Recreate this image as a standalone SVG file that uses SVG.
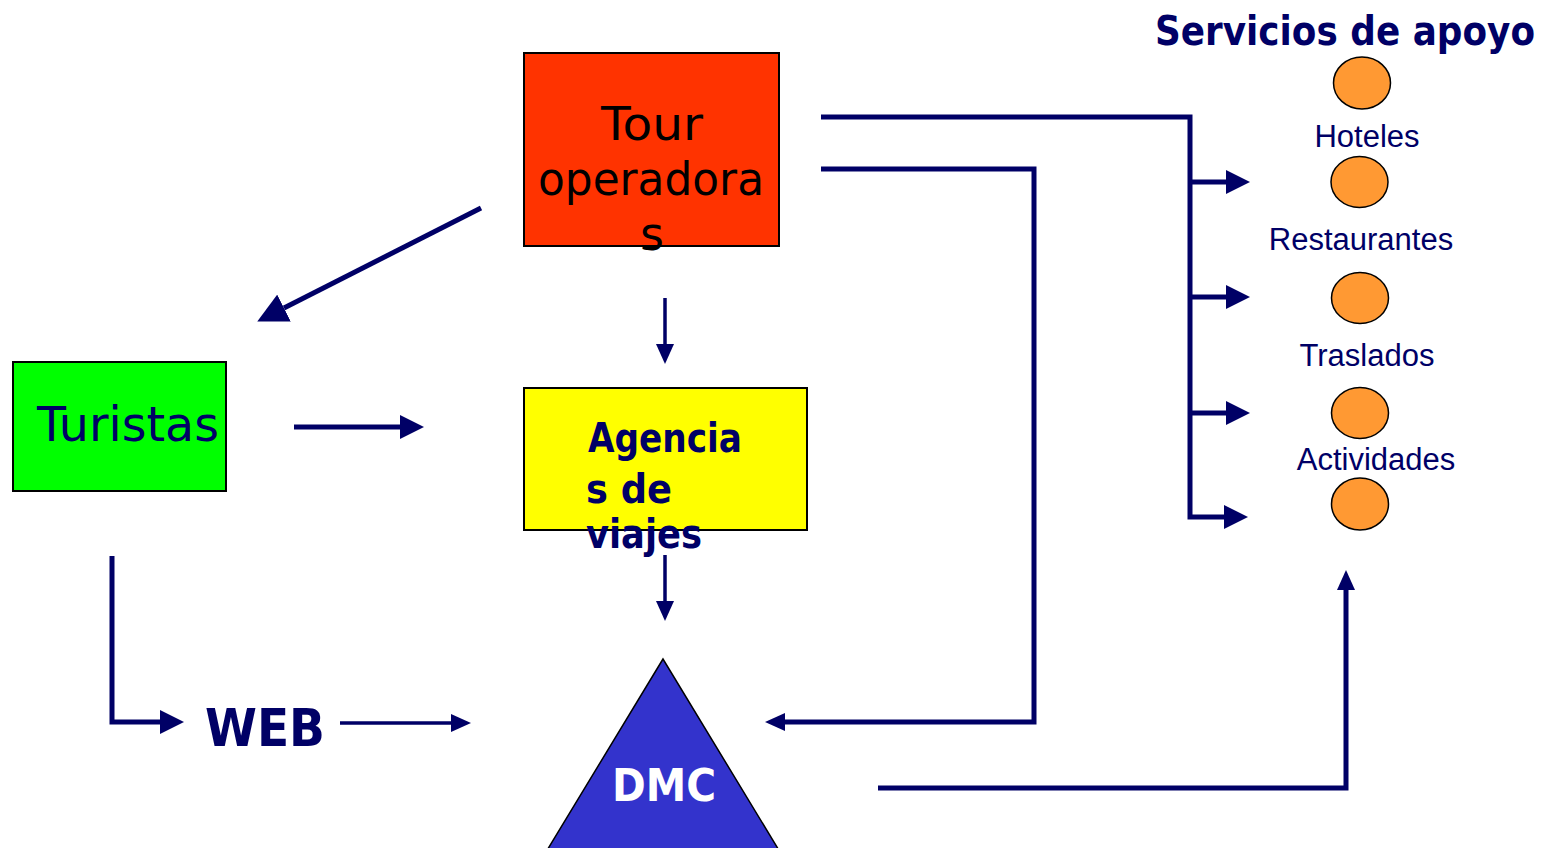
<svg xmlns="http://www.w3.org/2000/svg" width="1550" height="848" viewBox="0 0 1550 848">
<style>
.comic{font-family:"Comic Sans MS","DejaVu Sans","Noto Sans",sans-serif}
.navy{fill:#000066}
.bold{font-weight:bold}
.lbl{font-family:"Liberation Sans",Arial,sans-serif;font-size:31px;fill:#000066;text-anchor:middle}
.ln{fill:none;stroke:#000066;stroke-width:5;stroke-linejoin:miter}
.thin{fill:none;stroke:#000066;stroke-width:3.5}
.circ{fill:#FF9933;stroke:#000;stroke-width:1.5}
</style>
<defs>
<marker id="big" viewBox="0 0 24 24" refX="0" refY="12" markerWidth="24" markerHeight="24" markerUnits="userSpaceOnUse" orient="auto"><path d="M0,0 L24,12 L0,24 z" fill="#000066"/></marker>
<marker id="small" viewBox="0 0 20 18" refX="0" refY="9" markerWidth="20" markerHeight="18" markerUnits="userSpaceOnUse" orient="auto"><path d="M0,0 L20,9 L0,18 z" fill="#000066"/></marker>
<marker id="diag" viewBox="0 0 30 30" refX="0" refY="15" markerWidth="30" markerHeight="30" markerUnits="userSpaceOnUse" orient="auto"><path d="M0,0 L30,15 L0,30 z" fill="#000066"/></marker>
</defs>
<rect width="1550" height="848" fill="#fff"/>
<g id="connectors">
<line x1="481" y1="208" x2="284" y2="308" class="ln" stroke-width="7" marker-end="url(#diag)"/>
<line x1="665" y1="298" x2="665" y2="344" class="thin" marker-end="url(#small)"/>
<line x1="294" y1="427" x2="400" y2="427" class="ln" stroke-width="6" marker-end="url(#big)"/>
<line x1="665" y1="555" x2="665" y2="601" class="thin" marker-end="url(#small)"/>
<polyline points="112,556 112,722 160,722" class="ln" marker-end="url(#big)"/>
<line x1="340" y1="723" x2="451" y2="723" class="thin" marker-end="url(#small)"/>
<polyline points="821,169 1034,169 1034,722 785,722" class="ln" marker-end="url(#small)"/>
<polyline points="821,117 1190,117 1190,517 1224,517" class="ln" marker-end="url(#big)"/>
<line x1="1190" y1="182" x2="1226" y2="182" class="ln" marker-end="url(#big)"/>
<line x1="1190" y1="297" x2="1226" y2="297" class="ln" marker-end="url(#big)"/>
<line x1="1190" y1="413" x2="1226" y2="413" class="ln" marker-end="url(#big)"/>
<polyline points="878,788 1346,788 1346,590" class="ln" stroke-width="4" marker-end="url(#small)"/>
</g>
<g id="tour-operadoras">
<rect x="524" y="53" width="255" height="193" fill="#FF3300" stroke="#000" stroke-width="2"/>
<text class="comic" font-size="46" fill="#000">
<tspan x="601" y="140" textLength="102" lengthAdjust="spacingAndGlyphs">Tour</tspan>
<tspan x="538" y="195" textLength="226" lengthAdjust="spacingAndGlyphs">operadora</tspan>
<tspan x="640" y="250">s</tspan>
</text>
</g>
<g id="turistas">
<rect x="13" y="362" width="213" height="129" fill="#00FF00" stroke="#000" stroke-width="2"/>
<text class="comic navy" x="37" y="441" font-size="48" textLength="182" lengthAdjust="spacingAndGlyphs">Turistas</text>
</g>
<g id="agencias">
<rect x="524" y="388" width="283" height="142" fill="#FFFF00" stroke="#000" stroke-width="2"/>
<text class="comic navy bold" font-size="40">
<tspan x="588" y="452" textLength="154" lengthAdjust="spacingAndGlyphs">Agencia</tspan>
<tspan x="586" y="503" textLength="86" lengthAdjust="spacingAndGlyphs">s de</tspan>
<tspan x="586" y="548" textLength="116" lengthAdjust="spacingAndGlyphs">viajes</tspan>
</text>
</g>
<g id="web">
<text class="comic navy bold" x="205" y="746" font-size="52" textLength="120" lengthAdjust="spacingAndGlyphs">WEB</text>
</g>
<g id="dmc">
<polygon points="663,659 546,852 780,852" fill="#3333CC" stroke="#000" stroke-width="1.5"/>
<text class="comic bold" x="612" y="801" font-size="44" fill="#fff" textLength="104" lengthAdjust="spacingAndGlyphs">DMC</text>
</g>
<g id="servicios-title">
<text class="comic navy bold" x="1155" y="45" font-size="41" textLength="380" lengthAdjust="spacingAndGlyphs">Servicios de apoyo</text>
</g>
<g id="hoteles">
<ellipse cx="1362" cy="83" rx="28.5" ry="26" class="circ"/>
<text class="lbl" x="1367" y="147">Hoteles</text>
</g>
<g id="restaurantes">
<ellipse cx="1359.5" cy="182" rx="28.5" ry="25.5" class="circ"/>
<text class="lbl" x="1361" y="250">Restaurantes</text>
</g>
<g id="traslados">
<ellipse cx="1360" cy="298" rx="28.5" ry="25.5" class="circ"/>
<text class="lbl" x="1367" y="366">Traslados</text>
</g>
<g id="actividades">
<ellipse cx="1360" cy="413" rx="28.5" ry="25.5" class="circ"/>
<text class="lbl" x="1376" y="470">Actividades</text>
</g>
<g id="extra-circle">
<ellipse cx="1360" cy="504" rx="28.5" ry="26" class="circ"/>
</g>
</svg>
